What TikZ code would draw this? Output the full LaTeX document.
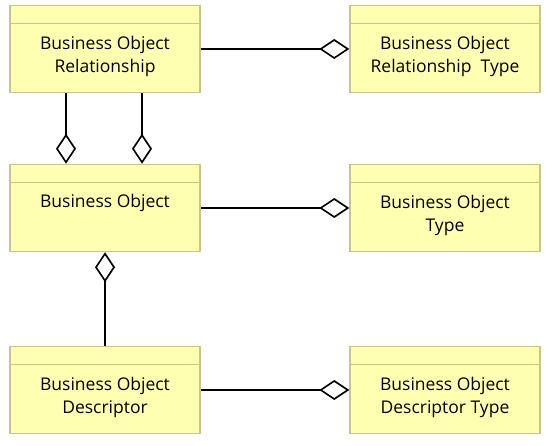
\documentclass[tikz,border=0pt]{standalone}
\usepackage{fontspec}
\setmainfont{Open Sans}
\usetikzlibrary{arrows.meta}
\definecolor{boxfill}{RGB}{255,255,178}
\definecolor{boxline}{RGB}{198,198,140}
\begin{document}
\begin{tikzpicture}[x=1pt,y=-1pt,
    cls/.style={draw=boxline,fill=boxfill,line width=1.5pt,minimum width=190pt,
      minimum height=87pt,inner sep=0pt},
    lbl/.style={anchor=north,align=center,inner sep=0pt,
      font=\fontsize{17.5}{23.5}\selectfont},
    agg/.style={line width=1.6pt,{Diamond[open,length=30pt,width=20pt,fill=white]}-}]
    \useasboundingbox (0,0) rectangle (549,446);
    \node [cls] (bor) at (105,49) {};
    \node [cls] (bort) at (445,49) {};
    \node [cls] (bo) at (105,208) {};
    \node [cls] (bot) at (445,208) {};
    \node [cls] (bod) at (105,390) {};
    \node [cls] (bodt) at (445,390) {};
    \foreach \b in {bor,bort,bo,bot,bod,bodt}
      \draw [boxline,line width=1.5pt] ([yshift=-19pt]\b.north west) --
            ([yshift=-19pt]\b.north east);
    \node [lbl] (borl) at ([yshift=-31pt]bor.north) {Business Object\\Relationship};
    \node [lbl] (bortl) at ([yshift=-31pt]bort.north)
     {Business Object\\Relationship\ \ Type};
    \node [lbl] (bol) at ([yshift=-30pt]bo.north) {Business Object};
    \node [lbl] (botl) at ([yshift=-31pt]bot.north) {Business Object\\Type};
    \node [lbl] (bodl) at ([yshift=-31pt]bod.north) {Business Object\\Descriptor};
    \node [lbl] (bodtl) at ([yshift=-31pt]bodt.north)
     {Business Object\\Descriptor Type};
    \draw [agg] (bort.west) -- (bor.east);
    \draw [agg] ([xshift=-39pt]bo.north) -- ([xshift=-39pt]bor.south);
    \draw [agg] ([xshift=37pt]bo.north) -- ([xshift=37pt]bor.south);
    \draw [agg] (bot.west) -- (bo.east);
    \draw [agg] (bo.south) -- (bod.north);
    \draw [agg] (bodt.west) -- (bod.east);
  \end{tikzpicture}
\end{document}
